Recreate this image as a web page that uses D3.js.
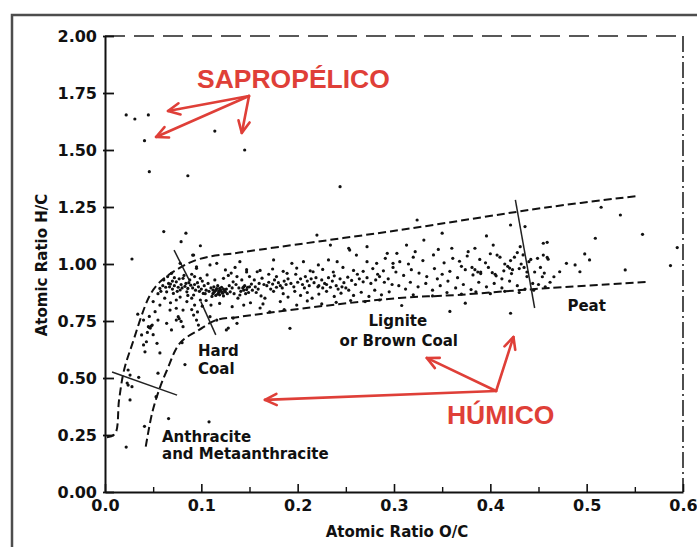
<!DOCTYPE html>
<html>
<head>
<meta charset="utf-8">
<script src="https://cdn.jsdelivr.net/npm/d3@7"></script>
<style>
  html, body { margin: 0; padding: 0; background: #fff; }
  svg { display: block; }
  .tick text { font-family: "DejaVu Sans", sans-serif; font-weight: bold; font-size: 16px; fill: #111; }
</style>
</head>
<body>
<svg id="chart" width="697" height="547"></svg>
<script>
// ---------- DATA ----------
const xTicks = [0, 0.1, 0.2, 0.3, 0.4, 0.5, 0.6];
const xMinorTicks = [0.05, 0.15, 0.25, 0.35, 0.45, 0.55];
const yTicks = [0, 0.25, 0.5, 0.75, 1.0, 1.25, 1.5, 1.75, 2.0];

// sapropelic (high H/C) samples
const sapropelicPoints = [
  [0.022,1.654],[0.031,1.636],[0.045,1.654],[0.041,1.541],[0.114,1.583],
  [0.145,1.500],[0.046,1.405],[0.086,1.387],[0.244,1.339]
];

// humic coal samples (O/C, H/C)
const humicPoints = [
  // anthracite / lower arm
  [0.022,0.197],[0.041,0.288],[0.066,0.322],[0.108,0.308],[0.053,0.418],[0.026,0.404],
  [0.023,0.478],[0.024,0.469],[0.028,0.462],[0.035,0.503],[0.026,0.513],[0.024,0.535],
  [0.055,0.521],[0.083,0.559],[0.040,0.645],[0.0415,0.615],[0.057,0.610],[0.080,0.655],
  [0.043,0.659],[0.038,0.689],[0.045,0.725],[0.047,0.719],[0.048,0.728],[0.054,0.652],
  [0.040,0.754],[0.055,0.754],[0.064,0.740],[0.069,0.711],[0.074,0.754],[0.076,0.769],
  [0.081,0.725],[0.092,0.776],[0.095,0.754],[0.097,0.732],[0.050,0.835],[0.057,0.820],
  [0.052,0.791],[0.0675,0.798],[0.074,0.806],[0.081,0.798],[0.093,0.820],[0.109,0.769],
  [0.126,0.711],[0.137,0.740],[0.116,0.754],[0.133,0.763],[0.128,0.719],[0.192,0.718],
  [0.044,0.700],[0.050,0.690],[0.034,0.780],[0.046,0.770],[0.046,0.722],[0.049,0.732],
  [0.077,0.760],[0.079,0.748],[0.090,0.800],[0.096,0.790],
  // above the band, left
  [0.028,1.022],[0.061,1.142],[0.084,1.135],[0.079,1.098],[0.099,1.080],[0.091,1.039],
  // dense hard-coal cluster
  [0.078,1.003],[0.095,0.988],[0.109,0.996],[0.116,1.003],[0.069,0.959],[0.061,0.930],
  [0.066,0.915],[0.074,0.922],[0.081,0.937],[0.088,0.930],[0.099,0.937],[0.106,0.952],
  [0.114,0.930],[0.123,0.937],[0.133,0.922],[0.144,0.900],[0.057,0.893],[0.064,0.878],
  [0.071,0.871],[0.078,0.886],[0.085,0.878],[0.092,0.864],[0.102,0.871],[0.112,0.886],
  [0.130,0.878],[0.140,0.864],[0.074,0.842],[0.085,0.835],[0.099,0.842],[0.119,0.827],
  [0.132,0.813],[0.144,0.820],[0.092,1.039],[0.095,0.981],[0.125,0.974],[0.140,1.010],
  [0.112,0.870],[0.114,0.880],[0.116,0.892],[0.118,0.875],[0.119,0.865],[0.120,0.885],
  [0.121,0.898],[0.122,0.872],[0.124,0.882],[0.115,0.862],[0.117,0.905],[0.110,0.895],
  [0.108,0.880],[0.126,0.890],[0.127,0.870],[0.113,0.900],[0.123,0.860],[0.111,0.858],
  [0.113,0.875],[0.115,0.885],[0.117,0.868],[0.119,0.893],[0.121,0.878],[0.123,0.890],
  [0.125,0.878],[0.118,0.882],
  [0.141,0.880],[0.143,0.895],[0.145,0.905],[0.147,0.888],[0.149,0.875],[0.150,0.900],
  [0.152,0.912],[0.146,0.870],[0.153,0.885],[0.144,0.885],[0.148,0.898],
  [0.060,0.905],[0.063,0.898],[0.067,0.900],[0.070,0.890],[0.072,0.905],[0.076,0.898],
  [0.079,0.910],[0.083,0.902],[0.086,0.893],[0.089,0.907],[0.091,0.895],[0.094,0.885],
  [0.097,0.900],[0.100,0.890],[0.103,0.905],[0.105,0.885],[0.107,0.915],[0.096,0.918],
  [0.087,0.918],[0.082,0.950],[0.090,0.955],[0.072,0.940],[0.065,0.945],[0.058,0.880],
  [0.055,0.870],[0.062,0.850],[0.068,0.830],[0.078,0.855],[0.090,0.850],[0.105,0.840],
  [0.110,0.820],[0.101,0.815],[0.131,0.960],[0.137,0.945],[0.128,0.950],[0.135,0.985],
  [0.147,0.965],[0.150,0.945],[0.142,0.930],
  [0.068,0.912],[0.075,0.880],[0.080,0.895],[0.084,0.915],[0.093,0.910],[0.098,0.880],
  [0.101,0.925],[0.104,0.870],[0.129,0.905],[0.132,0.895],[0.136,0.910],[0.139,0.895],
  [0.134,0.870],[0.138,0.850],[0.070,0.925],[0.077,0.935],[0.093,0.945],[0.086,0.862],
  // 0.15 - 0.30
  [0.175,1.018],[0.194,1.003],[0.206,1.010],[0.158,0.966],[0.189,0.959],[0.216,0.966],
  [0.2215,0.996],[0.232,1.018],[0.241,1.010],[0.261,1.039],[0.272,1.010],[0.282,1.003],
  [0.291,1.025],[0.299,1.003],[0.220,1.127],[0.234,1.083],[0.254,1.061],[0.272,1.076],
  [0.293,1.047],
  [0.147,0.975],[0.161,0.972],[0.174,0.978],[0.185,0.968],[0.199,0.982],[0.213,0.970],
  [0.226,0.976],[0.237,0.965],[0.247,0.985],[0.258,0.972],[0.268,0.968],[0.278,0.980],
  [0.289,0.970],[0.299,0.985],
  [0.168,0.905],[0.170,0.920],[0.172,0.890],[0.174,0.912],[0.176,0.930],[0.178,0.898],
  [0.180,0.918],[0.182,0.905],[0.175,0.880],
  [0.200,0.920],[0.203,0.935],[0.205,0.910],[0.208,0.945],[0.210,0.925],[0.212,0.905],
  [0.214,0.935],[0.217,0.918],[0.219,0.940],[0.221,0.900],
  [0.155,0.930],[0.160,0.915],[0.163,0.938],[0.186,0.925],[0.190,0.935],[0.193,0.915],
  [0.196,0.900],[0.225,0.930],[0.228,0.915],[0.232,0.940],[0.236,0.925],[0.240,0.905],
  [0.244,0.935],[0.248,0.918],[0.252,0.942],[0.256,0.928],[0.260,0.910],[0.264,0.935],
  [0.268,0.922],[0.272,0.940],[0.276,0.915],[0.281,0.930],[0.285,0.945],[0.290,0.920],
  [0.294,0.935],[0.298,0.910],
  [0.157,0.875],[0.162,0.860],[0.166,0.850],[0.185,0.870],[0.190,0.855],[0.197,0.880],
  [0.203,0.862],[0.210,0.875],[0.215,0.850],[0.222,0.868],[0.230,0.880],[0.238,0.858],
  [0.245,0.872],[0.253,0.885],[0.258,0.862],[0.266,0.876],[0.274,0.858],[0.280,0.885],
  [0.287,0.865],[0.295,0.878],
  [0.222,0.905],[0.226,0.895],[0.230,0.910],[0.234,0.898],[0.242,0.890],[0.246,0.900],
  [0.250,0.895],
  [0.151,0.830],[0.164,0.825],[0.182,0.835],[0.199,0.820],[0.210,0.838],[0.225,0.825],
  [0.240,0.832],[0.255,0.840],[0.270,0.835],[0.285,0.842],[0.161,0.807],[0.171,0.790],
  [0.186,0.800],
  [0.156,0.900],[0.159,0.890],[0.165,0.910],[0.184,0.895],[0.188,0.910],[0.207,0.895],
  [0.178,0.945],[0.170,0.955],[0.198,0.955],[0.238,0.948],[0.262,0.955],[0.283,0.955],
  // 0.30 - 0.45
  [0.324,1.193],[0.350,1.135],[0.331,1.105],[0.396,1.123],[0.421,1.171],[0.436,1.164],
  [0.313,1.083],[0.360,1.069],[0.384,1.069],[0.403,1.083],[0.431,1.076],[0.455,1.091],
  [0.253,1.069],
  [0.303,1.047],[0.322,1.054],[0.346,1.064],[0.377,1.054],[0.407,1.039],[0.320,1.030],
  [0.341,1.040],[0.361,1.025],[0.376,1.035],[0.389,1.020],[0.400,1.045],[0.410,1.030],
  [0.421,1.015],[0.434,1.040],[0.449,1.025],[0.306,1.010],[0.315,1.000],[0.330,1.015],
  [0.352,1.005],[0.368,1.012],[0.395,1.005],[0.415,1.000],[0.425,1.030],[0.440,1.010],
  [0.302,0.965],[0.310,0.950],[0.318,0.975],[0.326,0.960],[0.334,0.945],[0.342,0.980],
  [0.350,0.955],[0.358,0.968],[0.366,0.940],[0.374,0.975],[0.382,0.952],[0.390,0.965],
  [0.398,0.985],[0.406,0.948],[0.414,0.970],[0.422,0.958],[0.430,0.980],[0.438,0.945],
  [0.446,0.965],[0.370,0.990],[0.345,0.935],[0.412,0.935],
  [0.381,0.985],[0.384,0.975],[0.387,0.965],[0.390,0.958],
  [0.305,0.905],[0.312,0.890],[0.317,0.920],[0.325,0.900],[0.333,0.915],[0.340,0.885],
  [0.348,0.905],[0.356,0.925],[0.364,0.895],[0.372,0.910],[0.380,0.888],[0.388,0.920],
  [0.396,0.900],[0.404,0.915],[0.412,0.895],[0.420,0.925],[0.428,0.905],[0.436,0.890],
  [0.444,0.915],
  [0.320,0.865],[0.340,0.860],[0.355,0.875],[0.370,0.868],[0.385,0.878],[0.400,0.870],
  [0.415,0.880],[0.430,0.875],[0.445,0.885],
  [0.308,0.818],[0.358,0.792],[0.374,0.828],[0.421,0.784],
  [0.428,1.050],[0.432,1.000],[0.435,0.985],[0.438,0.965],[0.442,1.020],
  [0.418,0.990],[0.420,0.982],[0.423,0.975],[0.402,0.962],[0.405,0.955],
  // 0.45 - 0.60 (peat)
  [0.515,1.249],[0.535,1.215],[0.509,1.113],[0.558,1.130],[0.459,1.095],[0.594,1.072],
  [0.455,1.039],[0.459,1.029],[0.460,1.021],[0.498,1.044],[0.503,1.018],[0.479,1.003],
  [0.488,0.996],[0.472,0.966],[0.493,0.966],[0.466,0.944],[0.454,0.944],[0.540,0.974],
  [0.587,0.993],[0.452,0.985],[0.456,0.960],[0.462,0.920],[0.450,0.910],[0.457,0.900]
];

// coalification band boundaries (dashed)
const upperBoundary = [
  [0.002,0.240],[0.0104,0.255],[0.0146,0.404],[0.0198,0.535],[0.028,0.645],[0.0457,0.855],
  [0.056,0.917],[0.074,0.974],[0.098,1.022],[0.1445,1.053],[0.306,1.149],[0.4615,1.25],[0.552,1.298]
];
const lowerBoundary = [
  [0.0423,0.199],[0.0489,0.346],[0.0561,0.447],[0.0644,0.535],[0.078,0.654],[0.0977,0.711],
  [0.1154,0.754],[0.139,0.768],[0.209,0.807],[0.3056,0.851],[0.365,0.864],[0.4615,0.895],[0.5624,0.921]
];
// rank dividers (solid)
const dividers = [
  [[0.0073,0.526],[0.0748,0.425]],
  [[0.0717,1.061],[0.0873,0.930]],
  [[0.0995,0.835],[0.115,0.689]],
  [[0.426,1.281],[0.446,0.807]]
];
// rank labels: text, x, y(baseline), anchor
const rankLabels = [
  ["Peat", 0.480, 0.794, "start"],
  ["Lignite", 0.304, 0.726, "middle"],
  ["or Brown Coal", 0.305, 0.641, "middle"],
  ["Hard", 0.0966, 0.596, "start"],
  ["Coal", 0.0966, 0.518, "start"],
  ["Anthracite", 0.0592, 0.219, "start"],
  ["and Metaanthracite", 0.0592, 0.145, "start"]
];
// red annotations
const sapropelicLabel = ["SAPROPÉLICO", 0.0955, 1.772];
const humicLabel = ["HÚMICO", 0.355, 0.298];
const sapropelicApex = [0.1495, 1.737];
const sapropelicTips = [[0.0654,1.671],[0.053,1.557],[0.142,1.575]];
const humicApex = [0.406, 0.443];
const humicTips = [[0.166,0.404],[0.334,0.588],[0.424,0.680]];

// ---------- DRAW ----------
const svg = d3.select("#chart");
const x = d3.scaleLinear().domain([0, 0.6]).range([105, 683]);
const y = d3.scaleLinear().domain([0, 2]).range([492, 36]);

// outer figure frame
svg.append("path")
  .attr("d", "M12,560 L12,15 L710,15")
  .attr("fill", "none").attr("stroke", "#4d4d4d").attr("stroke-width", 2.5);

// top & right plot border (broken lines as in the scan)
svg.append("line").attr("x1", x(0)).attr("x2", x(0.6)).attr("y1", y(2)).attr("y2", y(2))
  .attr("stroke", "#222").attr("stroke-width", 1.6).attr("stroke-dasharray", "20,9");
svg.append("line").attr("x1", x(0.6)).attr("x2", x(0.6)).attr("y1", y(2)).attr("y2", y(0))
  .attr("stroke", "#222").attr("stroke-width", 1.6).attr("stroke-dasharray", "16,4,2,4");

// x axis
const xAxis = d3.axisBottom(x).tickValues(xTicks).tickFormat(d3.format(".1f"))
  .tickSizeInner(-8).tickSizeOuter(0).tickPadding(8);
const gx = svg.append("g").attr("transform", `translate(0,${y(0)})`).call(xAxis);
gx.select(".domain").attr("stroke", "#111").attr("stroke-width", 2);
gx.selectAll(".tick line").attr("stroke", "#111").attr("stroke-width", 1.6);
const xMinor = d3.axisBottom(x).tickValues(xMinorTicks).tickFormat("").tickSizeInner(-5).tickSizeOuter(0);
const gxm = svg.append("g").attr("transform", `translate(0,${y(0)})`).call(xMinor);
gxm.select(".domain").remove();
gxm.selectAll(".tick line").attr("stroke", "#111").attr("stroke-width", 1.4);

// y axis
const yAxis = d3.axisLeft(y).tickValues(yTicks).tickFormat(d3.format(".2f"))
  .tickSizeInner(-9).tickSizeOuter(0).tickPadding(8);
const gy = svg.append("g").attr("transform", `translate(${x(0)},0)`).call(yAxis);
gy.select(".domain").attr("stroke", "#111").attr("stroke-width", 2);
gy.selectAll(".tick line").attr("stroke", "#111").attr("stroke-width", 1.8).attr("x1", -2);

// axis titles
svg.append("text").attr("x", 397).attr("y", 537).attr("text-anchor", "middle")
  .attr("font-family", "DejaVu Sans, sans-serif").attr("font-weight", "bold").attr("font-size", 15)
  .attr("fill", "#111").text("Atomic Ratio O/C");
svg.append("text").attr("transform", "translate(46.5,265) rotate(-90)").attr("text-anchor", "middle")
  .attr("font-family", "DejaVu Sans, sans-serif").attr("font-weight", "bold").attr("font-size", 15)
  .attr("fill", "#111").text("Atomic Ratio H/C");

// boundaries
const line = d3.line().x(d => x(d[0])).y(d => y(d[1])).curve(d3.curveCatmullRom.alpha(0.5));
[upperBoundary, lowerBoundary].forEach(b => {
  svg.append("path").attr("d", line(b)).attr("fill", "none")
    .attr("stroke", "#111").attr("stroke-width", 2).attr("stroke-dasharray", "8,4");
});
dividers.forEach(d => {
  svg.append("line").attr("x1", x(d[0][0])).attr("y1", y(d[0][1]))
    .attr("x2", x(d[1][0])).attr("y2", y(d[1][1]))
    .attr("stroke", "#222").attr("stroke-width", 1.5);
});

// points
svg.append("g").selectAll("circle").data(sapropelicPoints.concat(humicPoints)).join("circle")
  .attr("cx", d => x(d[0])).attr("cy", d => y(d[1])).attr("r", 1.6).attr("fill", "#111");

// rank labels
svg.append("g").selectAll("text").data(rankLabels).join("text")
  .attr("x", d => x(d[1])).attr("y", d => y(d[2])).attr("text-anchor", d => d[3])
  .attr("font-family", "DejaVu Sans, sans-serif").attr("font-weight", "bold").attr("font-size", 15)
  .attr("fill", "#111").text(d => d[0]);

// red annotations
const red = "#df3f38";
function arrow(from, to) {
  const x1 = x(from[0]), y1 = y(from[1]), x2 = x(to[0]), y2 = y(to[1]);
  svg.append("line").attr("x1", x1).attr("y1", y1).attr("x2", x2).attr("y2", y2)
    .attr("stroke", red).attr("stroke-width", 2.6).attr("stroke-linecap", "round");
  const ang = Math.atan2(y1 - y2, x1 - x2), L = 13, a = 0.45;
  const p = [[x2 + L*Math.cos(ang + a), y2 + L*Math.sin(ang + a)], [x2, y2],
             [x2 + L*Math.cos(ang - a), y2 + L*Math.sin(ang - a)]];
  svg.append("path").attr("d", d3.line()(p)).attr("fill", "none")
    .attr("stroke", red).attr("stroke-width", 2.6).attr("stroke-linecap", "round").attr("stroke-linejoin", "round");
}
sapropelicTips.forEach(t => arrow(sapropelicApex, t));
humicTips.forEach(t => arrow(humicApex, t));

[sapropelicLabel, humicLabel].forEach(l => {
  svg.append("text").attr("x", x(l[1])).attr("y", y(l[2]))
    .attr("font-family", "Liberation Sans, Arial, sans-serif").attr("font-weight", "bold")
    .attr("font-size", 26.5).attr("fill", red).text(l[0]);
});
</script>
</body>
</html>
